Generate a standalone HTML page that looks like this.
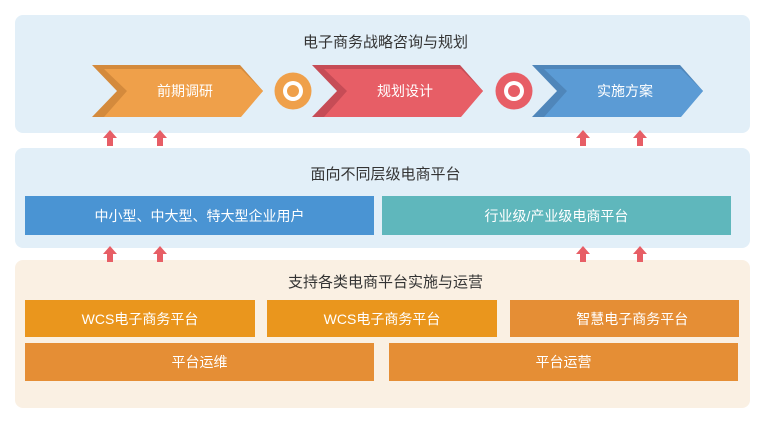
<!DOCTYPE html>
<html><head><meta charset="utf-8"><style>
body{margin:0;width:771px;height:425px;background:#fff;font-family:"Liberation Sans","Noto Sans CJK SC",sans-serif;position:relative;overflow:hidden}
.a{position:absolute}
.p{border-radius:8px}
.t{color:#333;font-size:15px;text-align:center;width:100%}
.b{position:absolute;color:#fff;font-size:14px;display:flex;align-items:center;justify-content:center}
</style></head><body>
<div class="a p" style="left:15px;top:15px;width:735px;height:118px;background:#e2eff8"></div>
<div class="a p" style="left:15px;top:148px;width:735px;height:100px;background:#e2eff8"></div>
<div class="a p" style="left:15px;top:260px;width:735px;height:148px;background:#faf0e3"></div>
<div class="a t" style="left:0;top:31px;width:771px">电子商务战略咨询与规划</div>
<div class="a t" style="left:0;top:163px;width:771px">面向不同层级电商平台</div>
<div class="a t" style="left:0;top:271px;width:771px">支持各类电商平台实施与运营</div>
<svg class="a" style="left:0;top:0" width="771" height="425">
<g>
<polygon points="92,65 240,65 263,91 240,117 92,117 117,91" fill="#d48a3c"/>
<polygon points="104,69 241,69 263,91 241,117 104,117 127,91" fill="#efa04a"/>
<text x="185" y="96" fill="#fff" font-size="14" text-anchor="middle" font-family="Liberation Sans,Noto Sans CJK SC,sans-serif">前期调研</text>
<polygon points="312,65 460,65 483,91 460,117 312,117 337,91" fill="#c64c56"/>
<polygon points="324,69 461,69 483,91 461,117 324,117 347,91" fill="#e75e66"/>
<text x="405" y="96" fill="#fff" font-size="14" text-anchor="middle" font-family="Liberation Sans,Noto Sans CJK SC,sans-serif">规划设计</text>
<polygon points="532,65 680,65 703,91 680,117 532,117 557,91" fill="#4f86ba"/>
<polygon points="544,69 681,69 703,91 681,117 544,117 567,91" fill="#5b9bd5"/>
<text x="625" y="96" fill="#fff" font-size="14" text-anchor="middle" font-family="Liberation Sans,Noto Sans CJK SC,sans-serif">实施方案</text>
<circle cx="293" cy="91" r="18.5" fill="#efa04a"/>
<circle cx="293" cy="91" r="10" fill="#fff"/>
<circle cx="293" cy="91" r="6" fill="#efa04a"/>
<circle cx="514" cy="91" r="18.5" fill="#e75e66"/>
<circle cx="514" cy="91" r="10" fill="#fff"/>
<circle cx="514" cy="91" r="6" fill="#e75e66"/>
</g>
<g fill="#e75e66">
<path d="M103,138 L110,130 L117,138 L113,138 L113,146 L107,146 L107,138Z"/>
<path d="M153,138 L160,130 L167,138 L163,138 L163,146 L157,146 L157,138Z"/>
<path d="M576,138 L583,130 L590,138 L586,138 L586,146 L580,146 L580,138Z"/>
<path d="M633,138 L640,130 L647,138 L643,138 L643,146 L637,146 L637,138Z"/>
<path d="M103,254 L110,246 L117,254 L113,254 L113,262 L107,262 L107,254Z"/>
<path d="M153,254 L160,246 L167,254 L163,254 L163,262 L157,262 L157,254Z"/>
<path d="M576,254 L583,246 L590,254 L586,254 L586,262 L580,262 L580,254Z"/>
<path d="M633,254 L640,246 L647,254 L643,254 L643,262 L637,262 L637,254Z"/>
</g>
</svg>
<div class="b" style="left:25px;top:196px;width:349px;height:39px;background:#4a94d3">中小型、中大型、特大型企业用户</div>
<div class="b" style="left:382px;top:196px;width:349px;height:39px;background:#5fb7bc">行业级/产业级电商平台</div>
<div class="b" style="left:25px;top:300px;width:230px;height:37px;background:#ea961d">WCS电子商务平台</div>
<div class="b" style="left:267px;top:300px;width:230px;height:37px;background:#ea961d">WCS电子商务平台</div>
<div class="b" style="left:510px;top:300px;width:229px;height:37px;background:#e58e35">&nbsp;&nbsp;&nbsp;&nbsp;智慧电子商务平台</div>
<div class="b" style="left:25px;top:343px;width:349px;height:38px;background:#e58e35">平台运维</div>
<div class="b" style="left:389px;top:343px;width:349px;height:38px;background:#e58e35">平台运营</div>
</body></html>
